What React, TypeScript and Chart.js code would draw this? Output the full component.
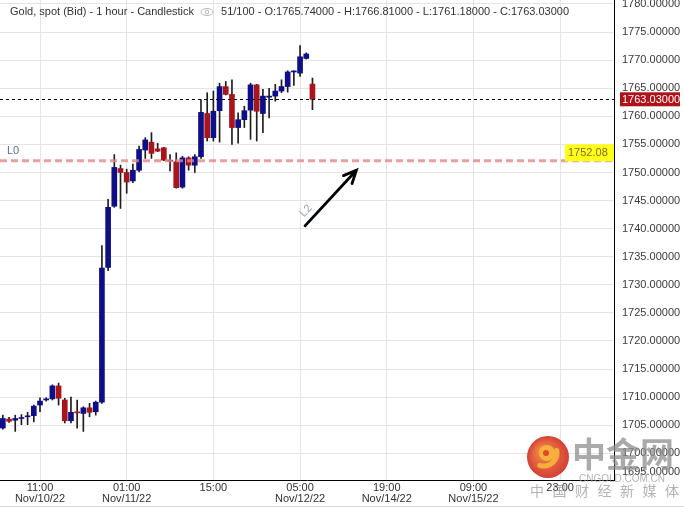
import React, { useEffect, useRef } from "react";
import { Chart, registerables } from "chart.js";

Chart.register(...registerables);

// ---------- data ----------
const slots = [
  0, 1, 2, 3, 4, 5, 6, 7, 8, 9, 10, 11, 12, 13, 14, 15, 16, 17, 18, 19, 20, 21, 22, 23, 24, 25,
  26, 27, 28, 29, 30, 31, 32, 33, 34, 35, 36, 37, 38, 39, 40, 41, 42, 43, 44, 45, 46, 47, 48, 49, 50,
];
const opens = [
  1704.5, 1706.1, 1705.9, 1706.2, 1706.5, 1706.7, 1708.6, 1709.5, 1709.7, 1712.0, 1709.5, 1705.8, 1707.3,
  1707.1, 1708.1, 1707.4, 1709.1, 1733.1, 1744.0, 1750.7, 1750.0, 1748.5, 1750.4, 1754.0, 1755.4, 1754.2,
  1754.4, 1752.2, 1751.9, 1747.4, 1752.6, 1751.3, 1752.8, 1760.5, 1756.2, 1761.0, 1765.3, 1763.9, 1758.0,
  1759.4, 1761.1, 1765.6, 1760.5, 1763.4, 1763.6, 1764.5, 1765.3, 1767.9, 1767.7, 1770.3, 1765.74,
];
const highs = [
  1706.8, 1706.4, 1706.8, 1706.9, 1707.3, 1708.6, 1709.9, 1709.9, 1712.2, 1712.5, 1709.8, 1710.0, 1709.5,
  1708.3, 1708.9, 1709.3, 1737.0, 1745.2, 1753.2, 1751.3, 1750.6, 1751.5, 1754.7, 1756.2, 1757.1, 1755.2,
  1754.5, 1753.2, 1753.5, 1752.9, 1752.8, 1753.2, 1763.0, 1764.2, 1764.5, 1765.9, 1766.2, 1766.5, 1760.6,
  1761.8, 1765.9, 1765.7, 1764.8, 1765.0, 1765.7, 1766.5, 1768.1, 1768.1, 1772.6, 1771.3, 1766.81,
];
const lows = [
  1704.3, 1705.5, 1703.9, 1705.1, 1705.1, 1705.6, 1707.4, 1709.3, 1709.5, 1708.6, 1705.4, 1705.4, 1704.5,
  1703.9, 1706.5, 1706.8, 1708.9, 1732.5, 1743.8, 1743.6, 1746.3, 1748.2, 1750.1, 1752.5, 1752.5, 1753.7,
  1752.1, 1750.3, 1747.2, 1747.2, 1750.4, 1750.0, 1752.5, 1755.6, 1755.6, 1755.4, 1763.8, 1755.0, 1755.2,
  1758.0, 1755.9, 1755.6, 1757.1, 1759.7, 1762.7, 1764.2, 1764.3, 1765.5, 1767.1, 1770.2, 1761.18,
];
const closes = [
  1706.2, 1705.7, 1706.2, 1706.3, 1706.6, 1708.4, 1709.3, 1709.7, 1712.0, 1709.8, 1705.8, 1707.3, 1707.2,
  1708.1, 1707.3, 1709.1, 1733.0, 1743.8, 1750.9, 1750.0, 1748.3, 1750.4, 1754.1, 1755.8, 1753.4, 1753.8,
  1752.2, 1752.0, 1747.3, 1752.6, 1751.3, 1752.8, 1760.7, 1756.2, 1760.9, 1765.3, 1763.9, 1758.0, 1759.4,
  1761.0, 1765.6, 1760.9, 1763.6, 1763.6, 1764.5, 1765.3, 1767.9, 1768.0, 1770.6, 1771.1, 1763.03,
];

const xTickSlots = [6, 20, 34, 48, 62, 76, 90];
const xTickTimes = ["11:00", "01:00", "15:00", "05:00", "19:00", "09:00", "23:00"];
const xTickDates = ["Nov/10/22", "Nov/11/22", "", "Nov/12/22", "Nov/14/22", "Nov/15/22", ""];
const yTickValues = [
  1695, 1700, 1705, 1710, 1715, 1720, 1725, 1730, 1735, 1740, 1745, 1750, 1755, 1760, 1765, 1770, 1775, 1780,
];

const lastPrice = 1763.03;
const levelL0 = 1752.08;
const arrowStart = [48.8, 1740.5];
const arrowEnd = [57.1, 1750.4];
const titleLeft = "Gold, spot (Bid) - 1 hour - Candlestick";
const titleRight = "51/100 - O:1765.74000 - H:1766.81000 - L:1761.18000 - C:1763.03000";

// ---------- styles ----------
const UP = "#0e0e88";
const DOWN = "#a8161c";
const WICK = "#1e1e1e";
const GRID = "#e4e4e4";
const FONT = "'Liberation Sans', Arial, sans-serif";

const overlayPlugin = {
  id: "overlay",
  afterDatasetsDraw(chart: any) {
    const { ctx, chartArea: a, scales } = chart;
    const y = scales.y;
    ctx.save();
    ctx.beginPath();
    ctx.rect(a.left, a.top, a.right - a.left, a.bottom - a.top);
    ctx.clip();
    const yl = y.getPixelForValue(levelL0);
    ctx.strokeStyle = "rgba(225,135,135,0.8)";
    ctx.lineWidth = 3;
    ctx.setLineDash([7, 4]);
    ctx.beginPath();
    ctx.moveTo(a.left, yl);
    ctx.lineTo(a.right, yl);
    ctx.stroke();
    const yp = Math.round(y.getPixelForValue(lastPrice)) + 0.5;
    ctx.strokeStyle = "#000";
    ctx.lineWidth = 1;
    ctx.setLineDash([3, 3]);
    ctx.beginPath();
    ctx.moveTo(a.left, yp);
    ctx.lineTo(a.right, yp);
    ctx.stroke();
    ctx.restore();
  },
  afterDraw(chart: any) {
    const { ctx, chartArea: a, scales } = chart;
    const x = scales.x;
    const y = scales.y;
    ctx.save();

    // y-axis labels
    ctx.font = `11px ${FONT}`;
    ctx.fillStyle = "#3a3a3a";
    ctx.textAlign = "left";
    ctx.textBaseline = "middle";
    yTickValues.forEach((v) => {
      const py = Math.min(y.getPixelForValue(v), a.bottom - 8);
      ctx.fillText(v.toFixed(5), a.right + 8, py);
    });

    // last price box
    const yp = y.getPixelForValue(lastPrice);
    ctx.fillStyle = "#b0121a";
    ctx.fillRect(a.right + 6, yp - 7, 60, 14);
    ctx.fillStyle = "#fff";
    ctx.fillText(lastPrice.toFixed(5), a.right + 8, yp + 0.5);

    // L0 label + box
    const yl = y.getPixelForValue(levelL0);
    ctx.fillStyle = "#ffff1a";
    ctx.fillRect(a.right - 49, yl - 16.5, 49, 17);
    ctx.fillStyle = "#8a6a14";
    ctx.font = `11px ${FONT}`;
    ctx.fillText(levelL0.toFixed(2), a.right - 46, yl - 7.5);
    ctx.fillStyle = "#56728f";
    ctx.fillText("L0", a.left + 7, yl - 10);

    // arrow
    const x1 = x.getPixelForValue(arrowStart[0]);
    const y1 = y.getPixelForValue(arrowStart[1]);
    const x2 = x.getPixelForValue(arrowEnd[0]);
    const y2 = y.getPixelForValue(arrowEnd[1]);
    const ang = Math.atan2(y2 - y1, x2 - x1);
    ctx.strokeStyle = "#000";
    ctx.lineWidth = 2.8;
    ctx.lineCap = "round";
    ctx.beginPath();
    ctx.moveTo(x1, y1);
    ctx.lineTo(x2, y2);
    ctx.moveTo(x2 - 14 * Math.cos(ang - 0.43), y2 - 14 * Math.sin(ang - 0.43));
    ctx.lineTo(x2, y2);
    ctx.lineTo(x2 - 14 * Math.cos(ang + 0.43), y2 - 14 * Math.sin(ang + 0.43));
    ctx.stroke();
    ctx.save();
    ctx.translate(x1 + 1, y1 - 15);
    ctx.rotate(ang);
    ctx.fillStyle = "#8ea2c2";
    ctx.textAlign = "center";
    ctx.fillText("L2", 0, 0);
    ctx.restore();

    // title
    ctx.font = `11px ${FONT}`;
    ctx.fillStyle = "#333";
    ctx.textAlign = "left";
    ctx.fillText(titleLeft, 10, 11.5);
    const tw = ctx.measureText(titleLeft).width;
    const ex = 10 + tw + 13;
    ctx.strokeStyle = "#b8b8b8";
    ctx.lineWidth = 1;
    ctx.beginPath();
    ctx.ellipse(ex, 12, 6, 3.5, 0, 0, Math.PI * 2);
    ctx.stroke();
    ctx.beginPath();
    ctx.arc(ex, 12, 1.8, 0, Math.PI * 2);
    ctx.stroke();
    ctx.fillText(titleRight, ex + 14, 11.5);

    // bottom separator
    ctx.strokeStyle = "#dcdcdc";
    ctx.beginPath();
    ctx.moveTo(0, 506.5);
    ctx.lineTo(684, 506.5);
    ctx.stroke();

    // watermark
    ctx.globalAlpha = 0.88;
    const cx = 548, cy = 457, r = 21;
    const g = ctx.createRadialGradient(cx - 6, cy - 6, 3, cx, cy, r);
    g.addColorStop(0, "#ee7a2a");
    g.addColorStop(1, "#cf241c");
    ctx.fillStyle = g;
    ctx.beginPath();
    ctx.arc(cx, cy, r, 0, Math.PI * 2);
    ctx.fill();
    ctx.fillStyle = "#f8b940";
    ctx.beginPath();
    ctx.arc(cx - 1, cy - 4, 8, 0, Math.PI * 2);
    ctx.fill();
    ctx.strokeStyle = "#f8b940";
    ctx.lineWidth = 5;
    ctx.lineCap = "round";
    ctx.beginPath();
    ctx.arc(cx - 4, cy - 4, 13, -0.2, 1.9);
    ctx.stroke();
    ctx.fillStyle = "#de3a20";
    ctx.beginPath();
    ctx.arc(cx - 2, cy - 4, 3, 0, Math.PI * 2);
    ctx.fill();

    ctx.globalAlpha = 0.75;
    ctx.fillStyle = "#8e8e8e";
    ctx.font = `bold 34px 'Noto Sans CJK SC', sans-serif`;
    ctx.textAlign = "left";
    ctx.textBaseline = "middle";
    ctx.fillText("中金网", 572, 454);
    ctx.font = `10px ${FONT}`;
    ctx.textAlign = "center";
    ctx.fillStyle = "#9a9a9a";
    ctx.fillText("CNGOLD.COM.CN", 622, 479);
    ctx.font = `14px 'Noto Sans CJK SC', sans-serif`;
    const wm = ["中", "国", "财", "经", "新", "媒", "体"];
    wm.forEach((ch, i) => ctx.fillText(ch, 537 + i * 22.5, 491));
    ctx.restore();
  },
};

export default function App() {
  const ref = useRef<HTMLCanvasElement | null>(null);

  useEffect(() => {
    if (!ref.current) return;
    const bodies = slots.map((s, i) => ({ x: s, y: [opens[i], closes[i]] }));
    const wicks = slots.map((s, i) => ({ x: s, y: [lows[i], highs[i]] }));
    const colors = slots.map((_, i) => (closes[i] >= opens[i] ? UP : DOWN));

    const chart = new Chart(ref.current, {
      type: "bar",
      data: {
        datasets: [
          {
            data: bodies as any,
            backgroundColor: colors,
            borderWidth: 0,
            barThickness: 5,
            minBarLength: 1,
            grouped: false,
          } as any,
          {
            data: wicks as any,
            backgroundColor: WICK,
            borderWidth: 0,
            barThickness: 1,
            grouped: false,
          } as any,
        ],
      },
      options: {
        responsive: false,
        animation: false,
        devicePixelRatio: 1,
        layout: { padding: { left: 0, top: 0, right: 70, bottom: 2 } },
        plugins: { legend: { display: false }, tooltip: { enabled: false } },
        scales: {
          x: {
            type: "linear",
            min: -0.46,
            max: 98.7,
            offset: false,
            afterBuildTicks: (s: any) => {
              s.ticks = xTickSlots.map((v) => ({ value: v }));
            },
            grid: { color: GRID, drawTicks: false, offset: false },
            border: { display: true, color: "#000", width: 1 },
            ticks: {
              autoSkip: false,
              maxRotation: 0,
              padding: 2,
              color: "#333",
              font: { family: FONT, size: 11, lineHeight: 1 },
              callback: (_v: any, i: number) =>
                xTickDates[i] ? [xTickTimes[i], xTickDates[i]] : xTickTimes[i],
            },
          },
          y: {
            position: "right",
            min: 1695.25,
            max: 1780.71,
            afterBuildTicks: (s: any) => {
              s.ticks = yTickValues.filter((v) => v >= s.min && v <= s.max).map((v) => ({ value: v }));
            },
            grid: { color: GRID, drawTicks: false },
            border: { display: true, color: "#000", width: 1 },
            ticks: { display: false },
          },
        },
      } as any,
      plugins: [overlayPlugin],
    });
    return () => chart.destroy();
  }, []);

  return (
    <div style={{ position: "absolute", left: 0, top: 0, width: 684, height: 508, background: "#fff" }}>
      <canvas ref={ref} width={684} height={508} style={{ display: "block" }} />
    </div>
  );
}
